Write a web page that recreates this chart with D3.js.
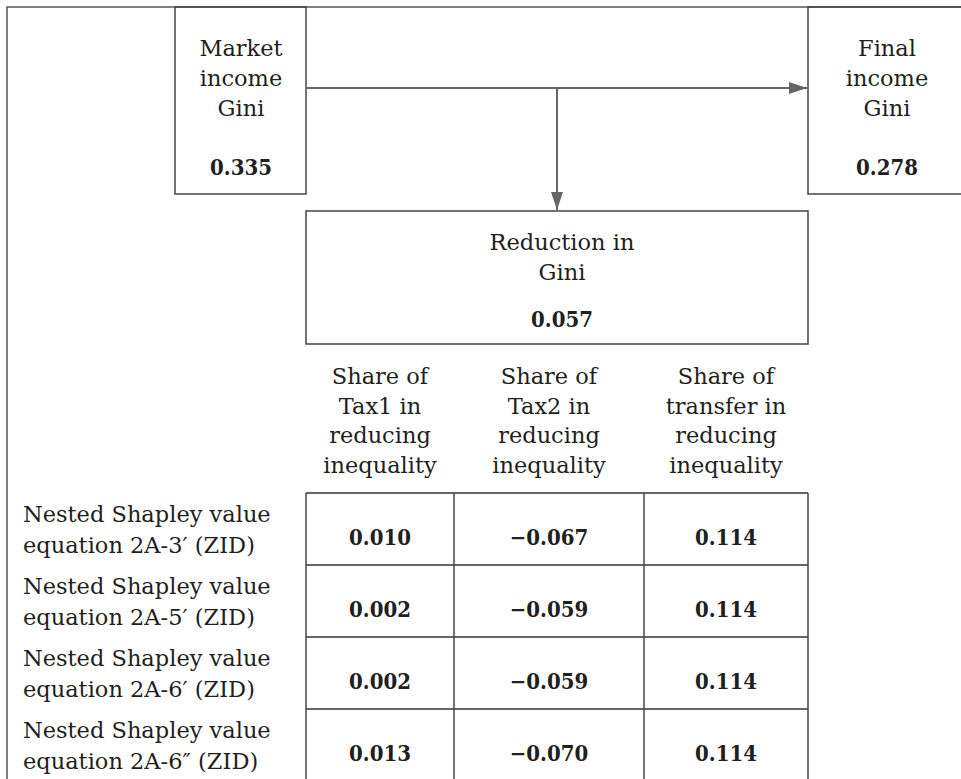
<!DOCTYPE html>
<html>
<head>
<meta charset="utf-8">
<script src="https://cdn.jsdelivr.net/npm/d3@7"></script>
<style>
  body { margin: 0; background: #fff; }
  .num { font-stretch: condensed; }
</style>
</head>
<body>
<div id="chart"></div>
<script>
// top boxes
const marketLabel = ["Market", "income", "Gini"];
const marketGini = "0.335";
const finalLabel = ["Final", "income", "Gini"];
const finalGini = "0.278";
const reductionLabel = ["Reduction in", "Gini"];
const reductionGini = "0.057";

// table
const columns = [
    ["Share of", "Tax1 in", "reducing", "inequality"],
    ["Share of", "Tax2 in", "reducing", "inequality"],
    ["Share of", "transfer in", "reducing", "inequality"]
];
const rowLabels = [
    ["Nested Shapley value", "equation 2A-3\u2032 (ZID)"],
    ["Nested Shapley value", "equation 2A-5\u2032 (ZID)"],
    ["Nested Shapley value", "equation 2A-6\u2032 (ZID)"],
    ["Nested Shapley value", "equation 2A-6\u2033 (ZID)"]
];
const tax1 = ["0.010", "0.002", "0.002", "0.013"];
const tax2 = ["\u22120.067", "\u22120.059", "\u22120.059", "\u22120.070"];
const transfer = ["0.114", "0.114", "0.114", "0.114"];

const width = 961, height = 779;
const fs = 22.5;      // regular text
const fsBold = 22;    // bold numbers
const font = "DejaVu Serif";

const svg = d3.select("#chart").append("svg")
    .attr("width", width)
    .attr("height", height);

const defs = svg.append("defs");
defs.append("marker")
    .attr("id", "arrow")
    .attr("viewBox", "0 0 18 12")
    .attr("refX", 18).attr("refY", 6)
    .attr("markerWidth", 18).attr("markerHeight", 12)
    .attr("markerUnits", "userSpaceOnUse")
    .attr("orient", "auto")
    .append("path")
    .attr("d", "M0,0L18,6L0,12Z")
    .attr("fill", "#666");

// outer frame (top + left only)
svg.append("path")
    .attr("d", `M7,${height}V7H${width}`)
    .attr("fill", "none")
    .attr("stroke", "#555")
    .attr("stroke-width", 1.5);

// column edges of the table / reduction box
const colEdges = [306, 454, 644, 808];
const x = d3.scaleOrdinal().domain([0, 1, 2]).range([0, 1, 2].map(i => (colEdges[i] + colEdges[i + 1]) / 2));

function box(x0, y0, x1, y1) {
    svg.append("rect")
        .attr("x", x0).attr("y", y0)
        .attr("width", x1 - x0).attr("height", y1 - y0)
        .attr("fill", "none")
        .attr("stroke", "#444")
        .attr("stroke-width", 1.5);
}

function lines(cx, y0, arr, step) {
    arr.forEach((t, i) => {
        svg.append("text")
            .attr("x", cx).attr("y", y0 + i * step)
            .attr("text-anchor", "middle")
            .attr("font-family", font)
            .attr("font-size", fs)
            .attr("fill", "#231f20")
            .text(t);
    });
}

function bold(cx, y, t) {
    svg.append("text")
        .attr("class", "num")
        .attr("x", cx).attr("y", y)
        .attr("text-anchor", "middle")
        .attr("font-family", font)
        .attr("font-size", fsBold)
        .attr("font-weight", "bold")
        .attr("fill", "#231f20")
        .text(t);
}

// Market & Final boxes
box(175, 7, 306, 194);
lines(241, 56, marketLabel, 30);
bold(241, 175, marketGini);

box(808, 7, 968, 194);
lines(887, 56, finalLabel, 30);
bold(887, 175, finalGini);

// arrows
const arrowY = 88, midX = 557;
svg.append("line")
    .attr("x1", 306).attr("y1", arrowY)
    .attr("x2", 807).attr("y2", arrowY)
    .attr("stroke", "#666").attr("stroke-width", 2)
    .attr("marker-end", "url(#arrow)");
svg.append("line")
    .attr("x1", midX).attr("y1", arrowY)
    .attr("x2", midX).attr("y2", 210)
    .attr("stroke", "#666").attr("stroke-width", 2)
    .attr("marker-end", "url(#arrow)");

// Reduction box
box(colEdges[0], 211, colEdges[3], 344);
lines(562, 250, reductionLabel, 30);
bold(562, 327, reductionGini);

// column headers
columns.forEach((c, i) => lines(x(i), 384, c, 29.5));

// table body
const tableTop = 493, rowH = 72;
const y = d3.scaleBand().domain(d3.range(rowLabels.length)).range([tableTop, tableTop + rowH * rowLabels.length]);

const g = svg.append("g");
rowLabels.forEach((r, i) => {
    r.forEach((t, j) => {
        g.append("text")
            .attr("x", 23).attr("y", y(i) + 29 + j * 31)
            .attr("font-family", font)
            .attr("font-size", fs)
            .attr("fill", "#231f20")
            .text(t);
    });
});

// horizontal rules
d3.range(rowLabels.length + 1).forEach(i => {
    const yy = tableTop + i * rowH;
    if (yy > height) return;
    g.append("line")
        .attr("x1", colEdges[0]).attr("x2", colEdges[3])
        .attr("y1", yy).attr("y2", yy)
        .attr("stroke", "#333").attr("stroke-width", 1.5);
});
// vertical rules
colEdges.forEach(cx => {
    g.append("line")
        .attr("x1", cx).attr("x2", cx)
        .attr("y1", tableTop).attr("y2", height)
        .attr("stroke", "#444").attr("stroke-width", 1.5);
});

[tax1, tax2, transfer].forEach((vals, ci) => {
    vals.forEach((v, ri) => bold(x(ci), y(ri) + 52, v));
});
</script>
</body>
</html>
